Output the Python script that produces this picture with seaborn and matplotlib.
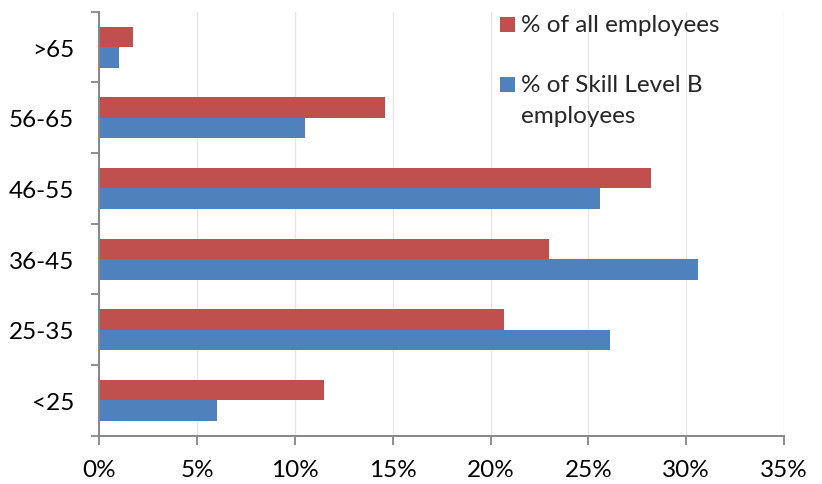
import matplotlib
matplotlib.use("Agg")
import matplotlib.pyplot as plt
import seaborn as sns
import pandas as pd
import numpy as np
from matplotlib.ticker import FixedLocator, FuncFormatter

# Age bands (top to bottom) and shares in percent
age_groups = [">65", "56-65", "46-55", "36-45", "25-35", "<25"]
all_employees = [1.7, 14.6, 28.2, 23.0, 20.7, 11.5]
skill_b_employees = [1.0, 10.5, 25.6, 30.6, 26.1, 6.0]
series_names = ["% of all employees", "% of Skill Level B\nemployees"]
series_colors = ["#C0504D", "#4F81BD"]
x_ticks = [0, 5, 10, 15, 20, 25, 30, 35]

df = pd.DataFrame({
    "age": age_groups * 2,
    "pct": all_employees + skill_b_employees,
    "series": [series_names[0]] * len(age_groups) + [series_names[1]] * len(age_groups),
})

sns.set_theme(style="white")
plt.rcParams["font.family"] = ["Lato", "DejaVu Sans"]
FS = 17.5
AXIS_GRAY = "#868686"
DPI = 100

fig = plt.figure(figsize=(8.22, 4.85), dpi=DPI)
ax = fig.add_axes([0.1208, 0.0996, 0.8330, 0.8742])

sns.barplot(
    data=df, y="age", x="pct", hue="series",
    order=age_groups, hue_order=series_names,
    palette=series_colors, saturation=1,
    width=0.58, gap=0, orient="h", ax=ax, errorbar=None,
    linewidth=0,
)

ax.set_xlim(0, 35)
ax.set_ylim(len(age_groups) - 0.5, -0.5)
ax.set_xlabel("")
ax.set_ylabel("")

# x axis: percent ticks with vertical gridlines
ax.xaxis.set_major_locator(FixedLocator(x_ticks))
ax.xaxis.set_major_formatter(FuncFormatter(lambda v, p: f"{v:.0f}%"))
ax.grid(axis="x", color="#e6e6e6", linewidth=1.0)
ax.set_axisbelow(True)

# y axis: labels centred on bands, tick marks between bands
ax.yaxis.set_minor_locator(FixedLocator(np.arange(-0.5, len(age_groups), 1.0)))
ax.tick_params(axis="y", which="major", length=0, pad=18, labelsize=FS, colors="black")
ax.tick_params(axis="y", which="minor", length=6, width=1.3, color=AXIS_GRAY, direction="out", left=True)
ax.tick_params(axis="x", which="major", length=6.5, width=1.3, color=AXIS_GRAY, direction="out",
               pad=10, labelsize=FS, labelcolor="black", bottom=True)

for side in ["top", "right"]:
    ax.spines[side].set_visible(False)
for side in ["left", "bottom"]:
    ax.spines[side].set_color(AXIS_GRAY)
    ax.spines[side].set_linewidth(1.4)

leg = ax.legend(
    loc="upper left", bbox_to_anchor=(500 / 822, 1 - 15 / 485),
    bbox_transform=fig.transFigure, frameon=False, fontsize=FS,
    handlelength=0.62, handleheight=0.62, handletextpad=0.24,
    labelspacing=1.6, borderpad=0, borderaxespad=0, title=None,
)
texts = leg.get_texts()
texts[1].set_linespacing(1.6)

# Align each legend swatch with the first line of its label
fig.canvas.draw()
renderer = fig.canvas.get_renderer()
line_h = texts[0].get_window_extent(renderer).height
for handle, text in zip(leg.legend_handles, texts):
    tb = text.get_window_extent(renderer)
    hb = handle.get_window_extent(renderer)
    target = tb.y1 - 0.5 * line_h
    dy = target - 0.5 * (hb.y0 + hb.y1)
    handle.set_y(handle.get_y() + dy * 72 / DPI)

fig.savefig("out.png", dpi=DPI)
